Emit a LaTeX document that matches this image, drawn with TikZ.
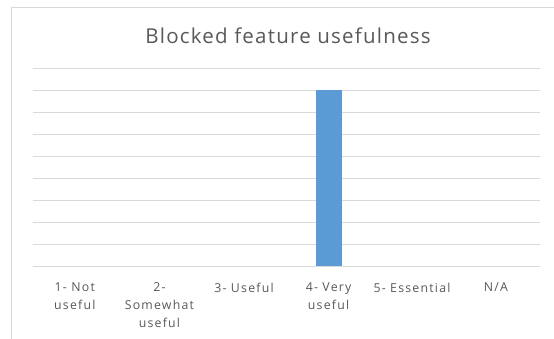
\documentclass[tikz,border=0pt]{standalone}
\usepackage{fontspec}
\setmainfont{Open Sans}
\newfontfamily\titlefont[LetterSpace=6]{Open Sans}
\newfontfamily\catfont[LetterSpace=10]{Open Sans}
\definecolor{gridc}{HTML}{D9D9D9}
\definecolor{framec}{HTML}{D9D9D9}
\definecolor{barc}{HTML}{5B9BD5}
\definecolor{txtc}{HTML}{595959}
\begin{document}
\begin{tikzpicture}[x=1pt,y=-1pt,
  grid/.style={draw=gridc,line width=0.9pt},
  catlabel/.style={text=txtc,font=\catfont\fontsize{12.3}{18}\selectfont,align=center,anchor=north,inner sep=0pt},
  titlelabel/.style={text=txtc,font=\titlefont\fontsize{20.5}{22}\selectfont,inner sep=0pt,anchor=base}]
\useasboundingbox[fill=white] (0,0) rectangle (554,338);
% chart frame (cropped on right and bottom)
\draw[framec,line width=1.4pt] (11.5,340) -- (11.5,7.5) -- (556,7.5);
% title
\node[titlelabel] (title) at (288,43) {Blocked feature usefulness};
% gridlines
\foreach \i in {0,...,9}{
  \draw[grid] (32.5,{68+22*\i}) -- (540,{68+22*\i});
}
% bar
\fill[barc] (316,90) rectangle (342,266);
\node[inner sep=0pt] (bar) at (329,178) {};
% category labels
\node[catlabel] (c1) at (74.8,282.5) {1- Not\\useful};
\node[catlabel] (c2) at (159.4,282.5) {2-\\Somewhat\\useful};
\node[catlabel] (c3) at (244,282.5) {3- Useful};
\node[catlabel] (c4) at (328.6,282.5) {4- Very\\useful};
\node[catlabel] (c5) at (412,282.5) {5- Essential};
\node[catlabel] (c6) at (496,282.5) {N/A};
\end{tikzpicture}
\end{document}
